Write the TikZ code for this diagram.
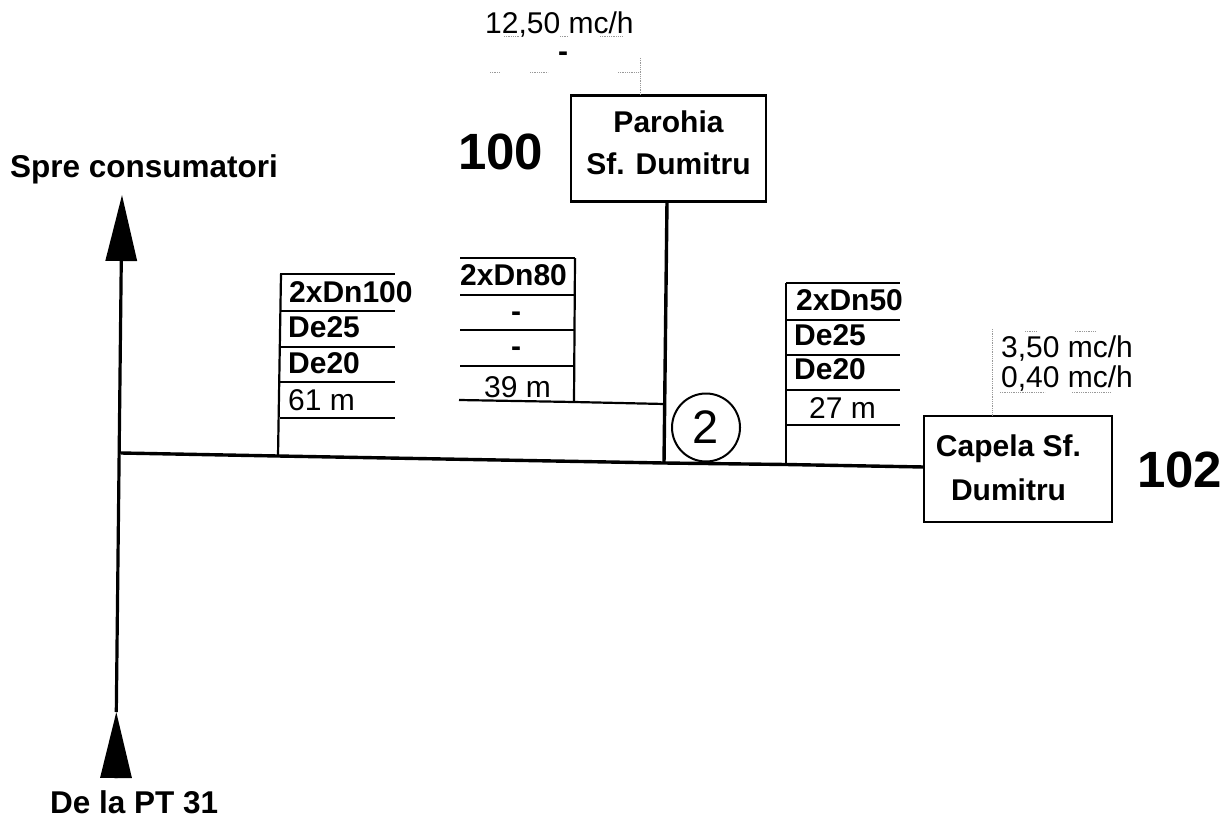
\documentclass[tikz,border=0pt]{standalone}
\usepackage{fontspec}
\setmainfont{Liberation Sans}
\usetikzlibrary{arrows.meta}
\tikzset{
  pipe/.style={line width=3.4pt,black},
  rule/.style={line width=2.2pt,black},
  faint/.style={line width=0.8pt,black!40,densely dotted},
  boxnode/.style={draw=black,line width=2.8pt,inner sep=0pt,align=center,font=\fontsize{30}{42}\bfseries\selectfont},
  bold/.style={anchor=base west,inner sep=0pt,font=\fontsize{30}{30}\bfseries\selectfont},
  boldwide/.style={anchor=base west,inner sep=0pt,font=\fontsize{31.5}{31.5}\bfseries\selectfont},
  dashmark/.style={anchor=base,inner sep=0pt,font=\fontsize{30}{30}\bfseries\selectfont},
  plain/.style={anchor=base west,inner sep=0pt,font=\fontsize{30}{30}\selectfont},
  big/.style={anchor=base west,inner sep=0pt,font=\fontsize{51}{51}\bfseries\selectfont},
  arrowup/.style={-{Triangle[length=66pt,width=31pt]},line width=3.2pt,black}
}
\begin{document}
\begin{tikzpicture}[x=1pt,y=-1pt]
\useasboundingbox (0,0) rectangle (1230,821);
% boxes
\node[boxnode,minimum width=195pt,minimum height=106pt] (par) at (668.5,148.5) {Parohia\\Sf. Dumitru\rule[-11pt]{0pt}{0pt}};
\node[boxnode,minimum width=188pt,minimum height=106pt] (cap) at (1018,469) {\hspace*{-19pt}Capela Sf.\\[2pt]\hspace*{-19pt}Dumitru\rule[-2pt]{0pt}{0pt}};
% coordinates of the network
\coordinate (src) at (116,778);
\coordinate (mid) at (116.3,712);
\coordinate (top) at (122,195);
\coordinate (j0) at (121,453);
\coordinate (j1) at (278,456);
\coordinate (j2) at (664,463);
\coordinate (j3) at (786,464.5);
\coordinate (parb) at (667,201);
\coordinate (capw) at (924,467);
\coordinate (s1t) at (281,274);
\coordinate (s2t) at (575,258);
\coordinate (s2b) at (574,402);
\coordinate (s2j) at (664.5,404);
\coordinate (s3t) at (786,283);
% arrows
\draw[arrowup] (src) -- (mid);
\draw[arrowup] (mid) -- (top);
% pipes
\draw[pipe] (j0) -- (j1) -- (j2) -- (j3) -- (capw);
\draw[pipe] (parb) -- (j2);
% stacks
\draw[rule] (s1t) -- (j1);
\draw[rule] (s2t) -- (s2b);
\draw[rule] (s3t) -- (j3);
\foreach \y in {274,311,347,382,418} \draw[rule] (280,\y) -- (395,\y);
\foreach \y in {258,295,330,366} \draw[rule] (460,\y) -- (575,\y);
\draw[rule] (459,400) -- (s2b) -- (s2j);
\foreach \y in {283,320,355,390,425} \draw[rule] (786,\y) -- (900,\y);
% circle
\node[draw=black,circle,line width=2pt,minimum size=68pt,inner sep=0pt,font=\fontsize{47}{47}\selectfont] (two) at (706,427.5) {2};
% faint leaders
\coordinate (f1) at (640,58);
\coordinate (f2) at (992,329);
\coordinate (f1b) at (640,95);
\coordinate (f2b) at (992,416);
\draw[faint] (f1) -- (f1b);
\draw[faint] (f2) -- (f2b);
\draw[faint] (490,72) -- (500,72) (530,72) -- (548,72) (618,72) -- (640,72);
\draw[faint] (504,36) -- (520,36) (560,36) -- (568,36) (600,36) -- (622,36);
\draw[faint] (1000,392) -- (1045,392) (1072,392) -- (1110,392);
\draw[faint] (1025,331) -- (1036,331) (1075,331) -- (1095,331);
% texts
\node[plain] (q1) at (485,34) {12,50 mc/h};
\node[dashmark] (q1b) at (563,61.5) {-};
\node[big] (n100) at (458,170) {100};
\node[big] (n102) at (1137,487) {102};
\node[boldwide] (spre) at (10,178) {Spre consumatori};
\node[boldwide] (dela) at (50,813) {De la PT 31};
\node[bold] (a1) at (289,302) {2xDn100};
\node[bold] (a2) at (288,337) {De25};
\node[bold] (a3) at (288,373) {De20};
\node[plain] (a4) at (288,410) {61 m};
\node[bold] (b1) at (460,285) {2xDn80};
\node[dashmark] (b2) at (516,321.5) {-};
\node[dashmark] (b3) at (516,356.5) {-};
\node[plain] (b4) at (484,397) {39 m};
\node[bold] (c1) at (796,310) {2xDn50};
\node[bold] (c2) at (794,345) {De25};
\node[bold] (c3) at (794,379) {De20};
\node[plain] (c4) at (809,418) {27 m};
\node[plain] (d1) at (1001,357) {3,50 mc/h};
\node[plain] (d2) at (1001,387) {0,40 mc/h};
\end{tikzpicture}
\end{document}
